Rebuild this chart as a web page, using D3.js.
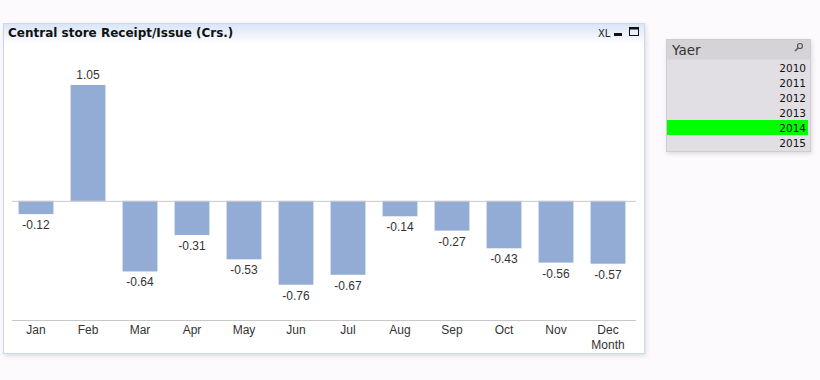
<!DOCTYPE html>
<html>
<head>
<meta charset="utf-8">
<script src="https://cdn.jsdelivr.net/npm/d3@7"></script>
<style>
  html, body { margin: 0; padding: 0; background: #fcfafd; }
  svg { display: block; }
</style>
</head>
<body>
<div id="chart"></div>
<script>
const months = ['Jan', 'Feb', 'Mar', 'Apr', 'May', 'Jun', 'Jul', 'Aug', 'Sep', 'Oct', 'Nov', 'Dec'];
const values = [-0.12, 1.05, -0.64, -0.31, -0.53, -0.76, -0.67, -0.14, -0.27, -0.43, -0.56, -0.57];
const years = ['2010', '2011', '2012', '2013', '2014', '2015'];
const selectedYear = '2014';

const FONT = '"Liberation Sans", Arial, sans-serif';
const W = 820, H = 380;
const fmt = d3.formatLocale({ decimal: '.', thousands: ',', grouping: [3], currency: ['', ''], minus: '-' }).format('.2f');
const svg = d3.select('#chart').append('svg').attr('width', W).attr('height', H);

const defs = svg.append('defs');
const grad = defs.append('linearGradient').attr('id', 'tbar').attr('x1', 0).attr('x2', 0).attr('y1', 0).attr('y2', 1);
grad.append('stop').attr('offset', '0%').attr('stop-color', '#d9e5f8');
grad.append('stop').attr('offset', '100%').attr('stop-color', '#ffffff');
const shad = defs.append('filter').attr('id', 'sh').attr('x', '-5%').attr('y', '-5%').attr('width', '110%').attr('height', '115%');
shad.append('feDropShadow').attr('dx', 1).attr('dy', 2).attr('stdDeviation', 2).attr('flood-color', '#000').attr('flood-opacity', 0.12);

// chart panel
const panel = { x: 3.5, y: 23.5, w: 641, h: 330 };
svg.append('rect').attr('x', panel.x).attr('y', panel.y).attr('width', panel.w).attr('height', panel.h)
  .attr('fill', '#fff').attr('stroke', '#c9d9ef').attr('filter', 'url(#sh)');
svg.append('rect').attr('x', panel.x + 0.5).attr('y', panel.y + 0.5).attr('width', panel.w - 1).attr('height', 20)
  .attr('fill', 'url(#tbar)');
svg.append('text').attr('x', 8).attr('y', 37).attr('font-family', '"DejaVu Sans", Verdana, sans-serif')
  .attr('font-weight', 700).attr('font-size', 12).attr('fill', '#111')
  .text('Central store Receipt/Issue (Crs.)');
// window controls
svg.append('text').attr('x', 598).attr('y', 37).attr('font-family', '"DejaVu Sans Condensed", "DejaVu Sans", sans-serif')
  .attr('font-size', 11).attr('fill', '#222').text('XL');
svg.append('rect').attr('x', 614).attr('y', 33).attr('width', 8).attr('height', 3).attr('fill', '#111');
svg.append('rect').attr('x', 629.5).attr('y', 27.5).attr('width', 9).attr('height', 8).attr('fill', 'none').attr('stroke', '#111');
svg.append('rect').attr('x', 629.5).attr('y', 27.5).attr('width', 9).attr('height', 2).attr('fill', '#111');

// scales
const x = d3.scaleBand().domain(months).range([10, 634]).paddingInner(0.33).paddingOuter(0.165);
const y = d3.scaleLinear().domain([-1.08, 1.05]).range([320, 85]);

// bars
svg.append('g').selectAll('rect').data(values).join('rect')
  .attr('x', (d, i) => x(months[i])).attr('width', x.bandwidth())
  .attr('y', (d) => y(Math.max(0, d))).attr('height', (d) => Math.abs(y(d) - y(0)))
  .attr('fill', '#93acd6');

// zero line and axis
svg.append('line').attr('x1', 12).attr('x2', 636).attr('y1', y(0) + 0.5).attr('y2', y(0) + 0.5)
  .attr('stroke', '#c8c8c8').attr('stroke-width', 1);
svg.append('line').attr('x1', 12).attr('x2', 636).attr('y1', 320.5).attr('y2', 320.5)
  .attr('stroke', '#c8c8c8').attr('stroke-width', 1);

// value labels
svg.append('g').selectAll('text').data(values).join('text')
  .attr('x', (d, i) => x(months[i]) + x.bandwidth() / 2)
  .attr('y', (d) => d >= 0 ? y(d) - 6 : y(d) + 15)
  .attr('text-anchor', 'middle').attr('font-family', FONT).attr('font-size', 12).attr('fill', '#333')
  .text((d) => fmt(d));

// month labels
svg.append('g').selectAll('text').data(months).join('text')
  .attr('x', (d) => x(d) + x.bandwidth() / 2).attr('y', 334)
  .attr('text-anchor', 'middle').attr('font-family', FONT).attr('font-size', 12).attr('fill', '#333')
  .text((d) => d);
svg.append('text').attr('x', x('Dec') + x.bandwidth() / 2).attr('y', 349)
  .attr('text-anchor', 'middle').attr('font-family', FONT).attr('font-size', 12).attr('fill', '#333')
  .text('Month');

// list box
const lb = { x: 666.5, y: 39.5, w: 144, h: 112 };
svg.append('rect').attr('x', lb.x).attr('y', lb.y).attr('width', lb.w).attr('height', lb.h)
  .attr('fill', '#e2dfe4').attr('stroke', '#d0ccd2').attr('filter', 'url(#sh)');
svg.append('rect').attr('x', lb.x + 0.5).attr('y', lb.y + 0.5).attr('width', lb.w - 1).attr('height', 19.5)
  .attr('fill', '#d6d3d8');
svg.append('text').attr('x', 672).attr('y', 55).attr('font-family', '"DejaVu Sans", Verdana, sans-serif')
  .attr('font-size', 13.5).attr('fill', '#333').text('Yaer');
// search icon
svg.append('circle').attr('cx', 800).attr('cy', 46).attr('r', 2.5).attr('fill', 'none').attr('stroke', '#555').attr('stroke-width', 1.2);
svg.append('line').attr('x1', 798).attr('y1', 48).attr('x2', 795).attr('y2', 51).attr('stroke', '#555').attr('stroke-width', 1.5);

const row = d3.scaleBand().domain(years).range([60, 150]);
svg.append('g').selectAll('rect').data(years.filter((d) => d === selectedYear)).join('rect')
  .attr('x', 667).attr('width', 141).attr('y', (d) => row(d)).attr('height', row.bandwidth())
  .attr('fill', '#00ff00');
svg.append('g').selectAll('text').data(years).join('text')
  .attr('x', 806).attr('y', (d) => row(d) + 11.5).attr('text-anchor', 'end')
  .attr('font-family', '"DejaVu Sans", Verdana, sans-serif').attr('font-size', 10.5).attr('fill', '#111')
  .text((d) => d);
</script>
</body>
</html>
